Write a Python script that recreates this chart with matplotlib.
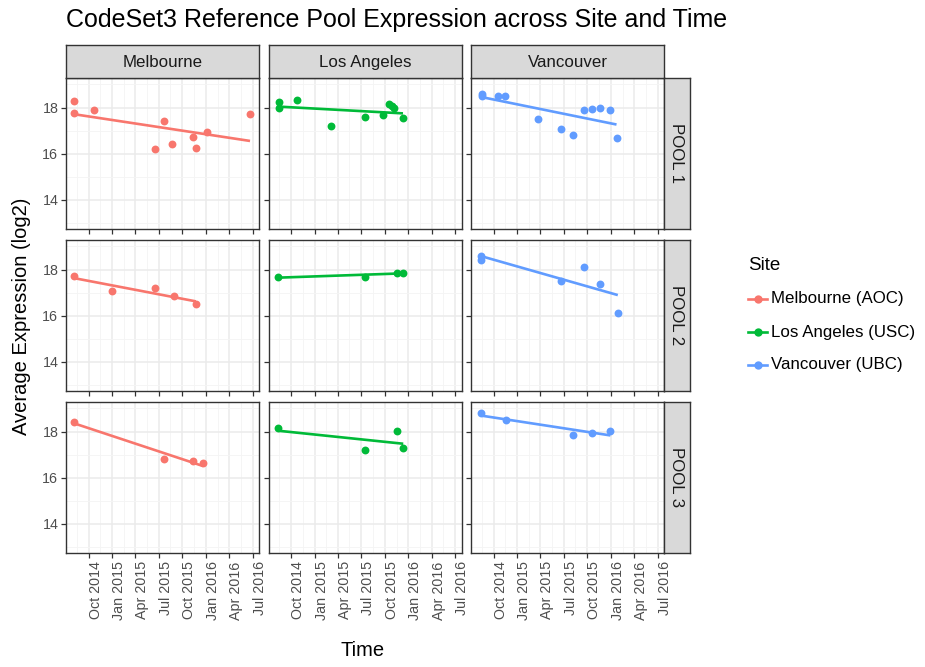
import numpy as np
import pandas as pd
import matplotlib
matplotlib.use("Agg")
import matplotlib.pyplot as plt
import matplotlib.dates as mdates
from matplotlib.lines import Line2D

plt.rcParams['font.family'] = ['Liberation Sans', 'DejaVu Sans']

# ---- data -------------------------------------------------------------
sites = ["Melbourne", "Los Angeles", "Vancouver"]
site_legend = ["Melbourne (AOC)", "Los Angeles (USC)", "Vancouver (UBC)"]
pools = ["POOL 1", "POOL 2", "POOL 3"]
site_colors = ["#F8766D", "#00BA38", "#619CFF"]

mel_p1_dates = ["2014-08-06", "2014-08-06", "2014-10-21", "2015-07-21", "2015-06-18",
                "2015-08-22", "2015-11-12", "2015-11-23", "2016-01-06", "2016-06-21"]
mel_p1_vals = [18.30, 17.77, 17.88, 17.41, 16.20, 16.43, 16.73, 16.26, 16.92, 17.70]

la_p1_dates = ["2014-08-13", "2014-08-13", "2014-10-25", "2015-03-04", "2015-07-17",
               "2015-09-25", "2015-10-17", "2015-10-28", "2015-11-05", "2015-12-11"]
la_p1_vals = [18.24, 18.00, 18.31, 17.22, 17.58, 17.67, 18.14, 18.05, 17.96, 17.53]

van_p1_dates = ["2014-08-16", "2014-08-16", "2014-10-20", "2014-11-15", "2015-03-23",
                "2015-06-20", "2015-08-06", "2015-09-19", "2015-10-21", "2015-11-20",
                "2015-12-30", "2016-01-23"]
van_p1_vals = [18.60, 18.49, 18.49, 18.49, 17.52, 17.09, 16.79, 17.88, 17.94, 18.00,
               17.88, 16.67]

mel_p2_dates = ["2014-08-06", "2014-12-30", "2015-06-18", "2015-08-29", "2015-11-23"]
mel_p2_vals = [17.70, 17.08, 17.21, 16.85, 16.49]

la_p2_dates = ["2014-08-12", "2015-07-17", "2015-11-19", "2015-12-12"]
la_p2_vals = [17.68, 17.67, 17.87, 17.87]

van_p2_dates = ["2014-08-12", "2014-08-12", "2015-06-20", "2015-09-19", "2015-11-19",
                "2016-01-28"]
van_p2_vals = [18.40, 18.58, 17.51, 18.10, 17.38, 16.12]

mel_p3_dates = ["2014-08-06", "2015-07-21", "2015-11-12", "2015-12-21"]
mel_p3_vals = [18.43, 16.80, 16.73, 16.62]

la_p3_dates = ["2014-08-12", "2015-07-17", "2015-11-19", "2015-12-12"]
la_p3_vals = [18.14, 17.22, 18.01, 17.28]

van_p3_dates = ["2014-08-12", "2014-11-17", "2015-08-06", "2015-10-21", "2015-12-30"]
van_p3_vals = [18.80, 18.49, 17.83, 17.94, 18.03]

panel_data = [
    [(mel_p1_dates, mel_p1_vals), (la_p1_dates, la_p1_vals), (van_p1_dates, van_p1_vals)],
    [(mel_p2_dates, mel_p2_vals), (la_p2_dates, la_p2_vals), (van_p2_dates, van_p2_vals)],
    [(mel_p3_dates, mel_p3_vals), (la_p3_dates, la_p3_vals), (van_p3_dates, van_p3_vals)],
]

x_tick_labels = ["Oct 2014", "Jan 2015", "Apr 2015", "Jul 2015",
                 "Oct 2015", "Jan 2016", "Apr 2016", "Jul 2016"]
y_ticks = [14, 16, 18]

# ---- layout (pixel geometry) -----------------------------------------
W, H = 925, 667
fig = plt.figure(figsize=(W / 100, H / 100), dpi=100)


def rect(x, y, w, h):
    return [x / W, 1 - (y + h) / H, w / W, h / H]


def fx(x):
    return x / W


def fy(y):
    return 1 - y / H


col_left = [66, 268.5, 471]
row_top = [78, 240, 402]
pw, ph = 193, 151

x_lo = pd.Timestamp("2014-07-05")
x_hi = pd.Timestamp("2016-07-26")
y_lo, y_hi = 12.74, 19.28

major_dates = pd.to_datetime(["2014-07-01", "2014-10-01", "2015-01-01", "2015-04-01",
                              "2015-07-01", "2015-10-01", "2016-01-01", "2016-04-01",
                              "2016-07-01"])
tick_dates = major_dates[1:]
minor_dates = major_dates[:-1] + (major_dates[1:] - major_dates[:-1]) / 2

border = "#333333"
grid_major = "#EBEBEB"
grid_minor = "#F4F4F4"
tick_color = "#4D4D4D"
tick_size = 10.3
strip_size = 12.2

for r in range(3):
    for c in range(3):
        ax = fig.add_axes(rect(col_left[c], row_top[r], pw, ph))
        ax.set_xlim(x_lo, x_hi)
        ax.set_ylim(y_lo, y_hi)
        ax.set_facecolor("white")
        for d in minor_dates:
            ax.axvline(d, color=grid_minor, lw=0.6, zorder=0)
        for d in major_dates:
            ax.axvline(d, color=grid_major, lw=1.1, zorder=0)
        for yv in [13, 15, 17, 19]:
            ax.axhline(yv, color=grid_minor, lw=0.6, zorder=0)
        for yv in y_ticks:
            ax.axhline(yv, color=grid_major, lw=1.1, zorder=0)

        dates, vals = panel_data[r][c]
        t = pd.to_datetime(dates)
        v = np.array(vals)
        xn = mdates.date2num(t)
        slope, icpt = np.polyfit(xn, v, 1)
        xs = np.array([xn.min(), xn.max()])
        ax.plot(mdates.num2date(xs), icpt + slope * xs, color=site_colors[c],
                lw=1.9, zorder=2, solid_capstyle="butt")
        ax.scatter(t, v, s=32, color=site_colors[c], zorder=3, linewidths=0)

        for sp in ax.spines.values():
            sp.set_color(border)
            sp.set_linewidth(1.0)

        ax.set_xticks(tick_dates)
        ax.set_yticks(y_ticks)
        ax.tick_params(axis="both", length=3.5, width=0.9, color=border,
                       labelcolor=tick_color, labelsize=tick_size)
        if r == 2:
            ax.set_xticklabels(x_tick_labels, rotation=90, ha="left", va="top")
        else:
            ax.set_xticklabels([])
        if c == 0:
            ax.set_yticklabels([str(y) for y in y_ticks])
        else:
            ax.set_yticklabels([])
        ax.tick_params(axis="x", pad=2.5)
        ax.tick_params(axis="y", pad=2)

# top strips
for c in range(3):
    sax = fig.add_axes(rect(col_left[c], 45, pw, 33))
    sax.set_xlim(0, 1)
    sax.set_ylim(0, 1)
    sax.set_xticks([])
    sax.set_yticks([])
    sax.set_facecolor("#D9D9D9")
    for sp in sax.spines.values():
        sp.set_color(border)
        sp.set_linewidth(1.0)
    sax.text(0.5, 0.48, sites[c], ha="center", va="center", fontsize=strip_size,
             color="#1A1A1A")

# right strips
strip_x = col_left[2] + pw
for r in range(3):
    sax = fig.add_axes(rect(strip_x, row_top[r], 26, ph))
    sax.set_xlim(0, 1)
    sax.set_ylim(0, 1)
    sax.set_xticks([])
    sax.set_yticks([])
    sax.set_facecolor("#D9D9D9")
    for sp in sax.spines.values():
        sp.set_color(border)
        sp.set_linewidth(1.0)
    sax.text(0.5, 0.5, pools[r], ha="center", va="center", fontsize=strip_size,
             color="#1A1A1A", rotation=-90)

# title and axis labels
fig.text(fx(66), fy(20), "CodeSet3 Reference Pool Expression across Site and Time",
         ha="left", va="center", fontsize=18, color="black")
fig.text(fx(22), fy(316), "Average Expression (log2)", rotation=90,
         ha="center", va="center", fontsize=14.5, color="black")
fig.text(fx(363), fy(650), "Time", ha="center", va="center",
         fontsize=14.5, color="black")

# legend, laid out entry by entry
fig.text(fx(748), fy(265), "Site", ha="left", va="center", fontsize=13.5,
         color="black")
legend_rows = [299, 332, 365]
for col, lab, yy in zip(site_colors, site_legend, legend_rows):
    fig.add_artist(Line2D([fx(748), fx(767)], [fy(yy), fy(yy)], color=col,
                          lw=1.9, transform=fig.transFigure))
    fig.add_artist(Line2D([fx(757.5)], [fy(yy)], color=col, marker="o",
                          markersize=6, markeredgewidth=0, linestyle="none",
                          transform=fig.transFigure))
    fig.text(fx(771), fy(yy), lab, ha="left", va="center", fontsize=12.2,
             color="black")

fig.savefig("out.png", dpi=100)
